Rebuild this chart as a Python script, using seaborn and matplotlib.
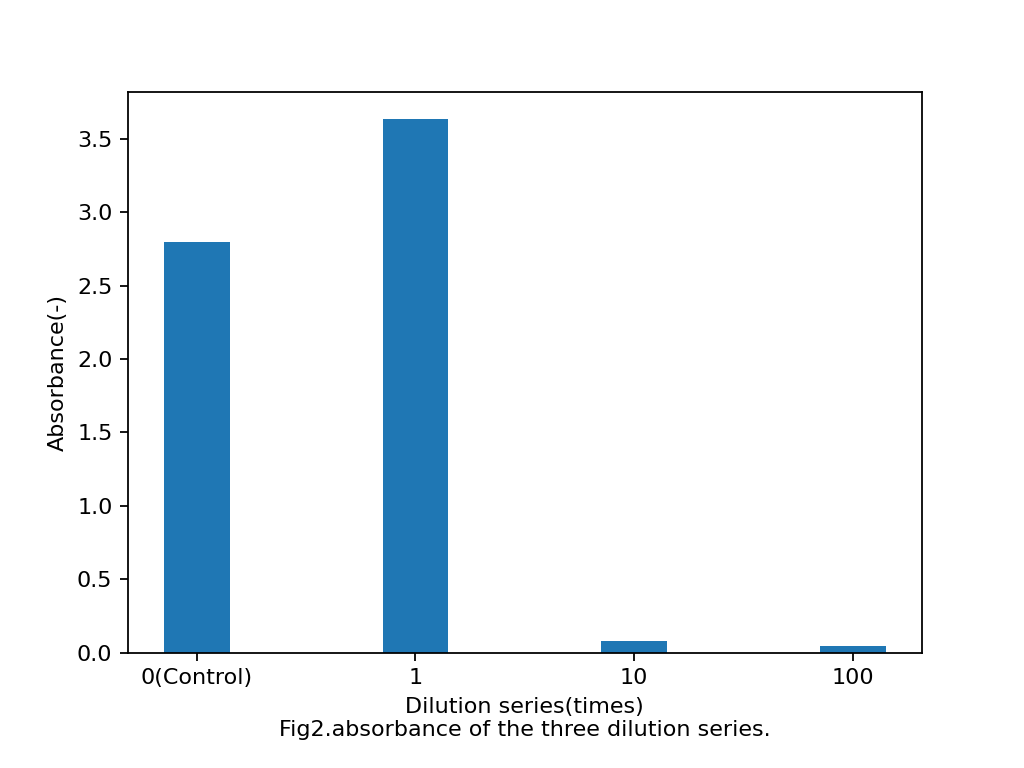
#!/usr/bin/env python3

from matplotlib import pyplot as plt
import pandas as pd
import seaborn as sns

dilution = ["0(Control)", "1", "10", "100"]
absorbance = [2.795, 3.635, 0.080, 0.045]

df = pd.DataFrame({"dilution": dilution, "absorbance": absorbance})

plt.figure(figsize=(6.4, 4.8))
ax = sns.barplot(data=df, x="dilution", y="absorbance", color="#1f77b4",
                 saturation=1, width=0.3, errorbar=None)
ax.set_xlim(-0.315, 3.315)
plt.xlabel("Dilution series(times)\nFig2.absorbance of the three dilution series.")
plt.ylabel("Absorbance(-)")
plt.subplots_adjust(bottom=0.15)
plt.savefig("out.png", dpi=160)
